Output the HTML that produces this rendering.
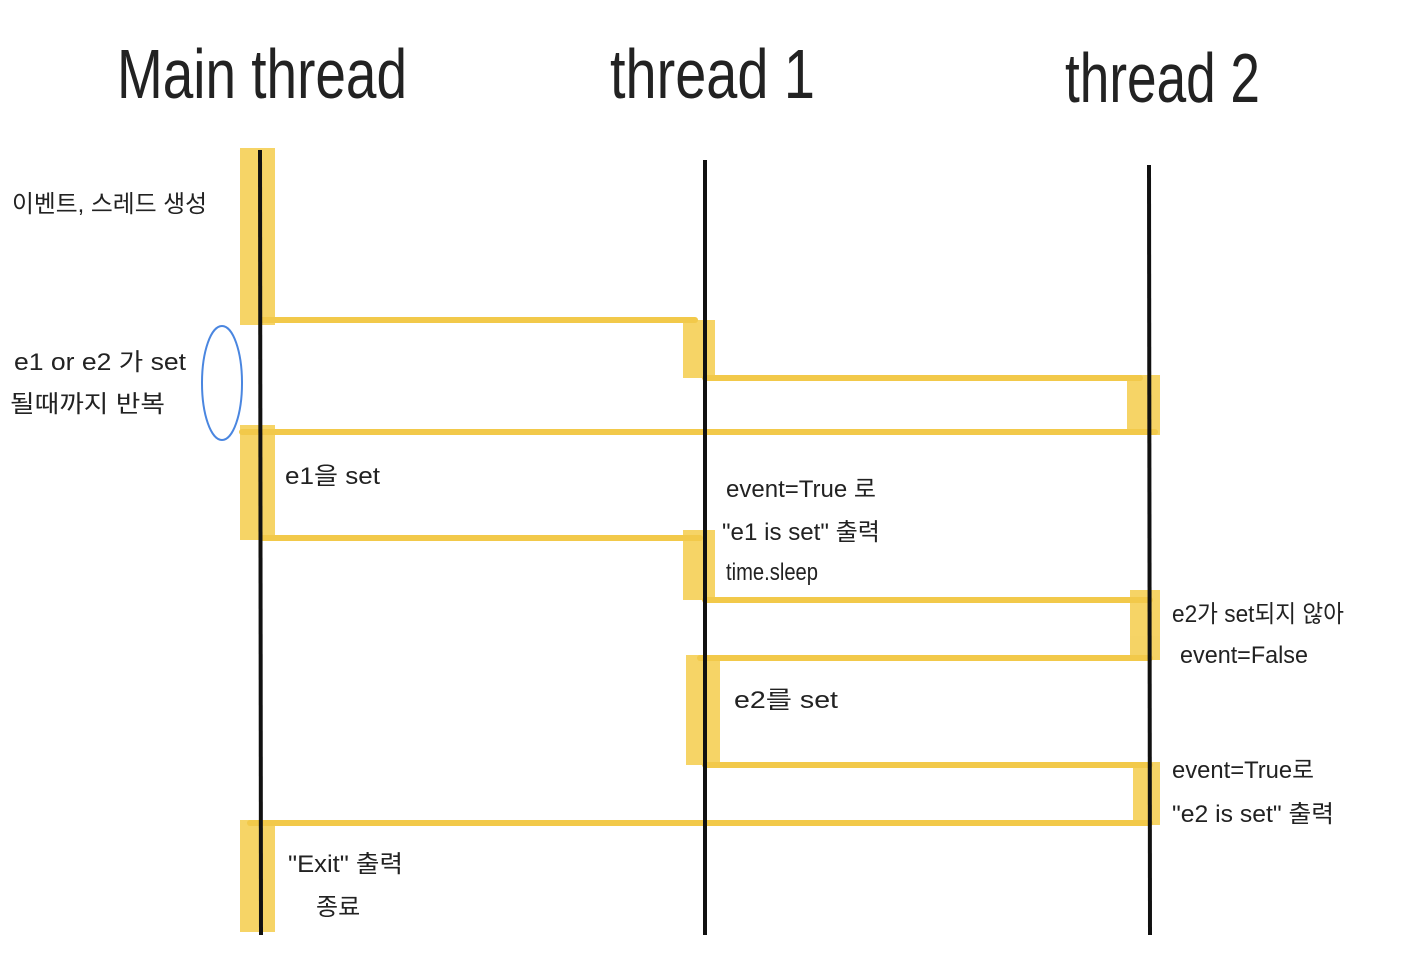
<!DOCTYPE html>
<html><head><meta charset="utf-8"><style>
html,body{margin:0;padding:0;background:#fff;}
svg{display:block;}
text{font-family:"Liberation Sans","Noto Sans CJK KR",sans-serif;fill:#222;}
</style></head><body>
<svg width="1417" height="976" viewBox="0 0 1417 976" xmlns="http://www.w3.org/2000/svg">
<g fill="#f5cf55" opacity="0.9">
<rect x="240" y="148" width="35" height="177"/>
<rect x="240" y="425" width="35" height="115"/>
<rect x="240" y="820" width="35" height="112"/>
<rect x="683" y="320" width="32" height="58"/>
<rect x="683" y="530" width="32" height="70"/>
<rect x="686" y="655" width="34" height="110"/>
<rect x="1127" y="375" width="33" height="60"/>
<rect x="1130" y="590" width="30" height="70"/>
<rect x="1133" y="762" width="27" height="63"/>
</g>
<g stroke="#f2c94a" stroke-width="6" stroke-linecap="round">
<line x1="262" y1="320" x2="695" y2="320"/>
<line x1="705" y1="378" x2="1140" y2="378"/>
<line x1="242" y1="432" x2="1155" y2="432"/>
<line x1="262" y1="538" x2="700" y2="538"/>
<line x1="705" y1="600" x2="1150" y2="600"/>
<line x1="700" y1="658" x2="1150" y2="658"/>
<line x1="705" y1="765" x2="1150" y2="765"/>
<line x1="250" y1="823" x2="1150" y2="823"/>
</g>
<g stroke="#111" stroke-width="4">
<line x1="260" y1="150" x2="261" y2="935"/>
<line x1="705" y1="160" x2="705" y2="935"/>
<line x1="1149" y1="165" x2="1150" y2="935"/>
</g>
<ellipse cx="222" cy="383" rx="20" ry="57" fill="none" stroke="#4a86e0" stroke-width="2"/>
<text x="117" y="98" font-size="70" textLength="290" lengthAdjust="spacingAndGlyphs" fill="#111">Main thread</text>
<text x="610" y="98" font-size="70" textLength="205" lengthAdjust="spacingAndGlyphs" fill="#111">thread 1</text>
<text x="1065" y="102" font-size="70" textLength="195" lengthAdjust="spacingAndGlyphs" fill="#111">thread 2</text>
<g font-size="24">
<text x="12" y="212" textLength="195" lengthAdjust="spacingAndGlyphs">이벤트, 스레드 생성</text>
<text x="14" y="370" textLength="172" lengthAdjust="spacingAndGlyphs">e1 or e2 가 set</text>
<text x="10" y="412" textLength="155" lengthAdjust="spacingAndGlyphs">될때까지 반복</text>
<text x="285" y="484" textLength="95" lengthAdjust="spacingAndGlyphs">e1을 set</text>
<text x="726" y="497" textLength="150" lengthAdjust="spacingAndGlyphs">event=True 로</text>
<text x="722" y="540" textLength="158" lengthAdjust="spacingAndGlyphs">"e1 is set" 출력</text>
<text x="726" y="580" textLength="92" lengthAdjust="spacingAndGlyphs">time.sleep</text>
<text x="1172" y="622" textLength="172" lengthAdjust="spacingAndGlyphs">e2가 set되지 않아</text>
<text x="1180" y="663" textLength="128" lengthAdjust="spacingAndGlyphs">event=False</text>
<text x="734" y="708" textLength="104" lengthAdjust="spacingAndGlyphs">e2를 set</text>
<text x="1172" y="778" textLength="142" lengthAdjust="spacingAndGlyphs">event=True로</text>
<text x="1172" y="822" textLength="162" lengthAdjust="spacingAndGlyphs">"e2 is set" 출력</text>
<text x="288" y="872" textLength="115" lengthAdjust="spacingAndGlyphs">"Exit" 출력</text>
<text x="316" y="915">종료</text>
</g>
</svg>
</body></html>
